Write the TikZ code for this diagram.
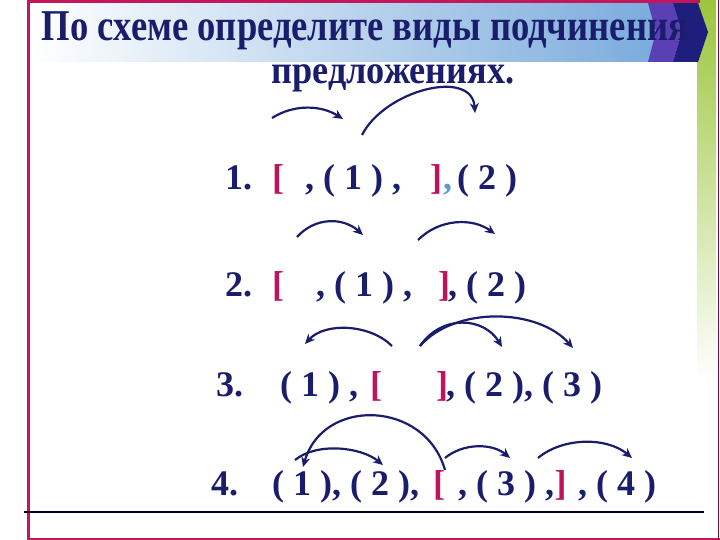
\documentclass[tikz,border=0pt]{standalone}
\usepackage{fontspec}
\setmainfont{Liberation Serif}
\usetikzlibrary{arrows.meta}
\usetikzlibrary{calc}

\definecolor{navyink}{HTML}{1A1D6C}
\definecolor{bracketred}{HTML}{C0135C}
\definecolor{paleblue}{HTML}{5B9BD5}
\definecolor{headblue}{HTML}{72A6DA}
\definecolor{chevpurple}{HTML}{5A40B4}
\definecolor{chevnavy}{HTML}{1E1F7C}
\definecolor{barGreen}{HTML}{9CC53C}
\definecolor{framered}{HTML}{C2185B}

\tikzset{
	scheme/.style={font=\bfseries\fontsize{36}{36}\selectfont, text=navyink, inner sep=0pt, anchor=base west},
	brk/.style={scheme, text=bracketred},
	linkarc/.style={-{Stealth[length=10pt, width=9pt]}, line width=2.2pt, draw=navyink}
}

\begin{document}
\begin{tikzpicture}[x=1pt, y=-1pt]

	% page size
	\useasboundingbox (0,0) rectangle (720,540);
	\fill[white] (0,0) rectangle (720,540);

	% header band and side bar
	\shade[left color=white, right color=headblue] (30,3) rectangle (697,62);
	\shade[top color=barGreen, bottom color=white] (697,0) rectangle (716,380);
	\fill[chevpurple] (648,3) -- (673,3) -- (682,32) -- (673,62) -- (648,62) -- (656,32) -- cycle;
	\fill[chevnavy] (673,3) -- (698,3) -- (708,32) -- (698,62) -- (673,62) -- (682,32) -- cycle;

	% frame
	\draw[framered, line width=3pt] (28,0) -- (28,540);
	\draw[framered, line width=3pt] (28,1.5) -- (700,1.5);
	\draw[framered, line width=2pt] (28,539) -- (720,539);
	\draw[framered!60!black, line width=1pt] (718,0) -- (718,540);
	\draw[black!85!blue, line width=1.2pt] (24,512) -- (704,512);

	% title
	\node[anchor=base, text=navyink, inner sep=0pt] (title1) at (365,41)
		{\resizebox{646pt}{\height}{\bfseries\fontsize{44}{44}\selectfont По схеме определите виды подчинения}};
	\node[anchor=base, text=navyink, inner sep=0pt] (title2) at (393,84)
		{\resizebox{243pt}{\height}{\bfseries\fontsize{40}{40}\selectfont предложениях.}};

	% scheme 1
	\node[scheme] (n1) at (225,190) {1.};
	\node[brk] (n1open) at (272,190) {[};
	\node[scheme] (n1sub) at (305,190) {, ( 1 ) ,};
	\node[brk] (n1close) at (430,190) {]};
	\node[scheme, text=paleblue] (n1comma) at (443,190) {,};
	\node[scheme] (n1two) at (457,190) {( 2 )};
	\coordinate (a1s) at (272,118);
	\coordinate (a1e) at (343,119);
	\coordinate (b1s) at (362,135);
	\coordinate (b1e) at (475,113);
	\draw[linkarc] (a1s) .. controls +(22,-14) and +(-22,-14) .. (a1e);
	\draw[linkarc] (b1s) .. controls +(23,-45) and +(-3,-45) .. (b1e);

	% scheme 2
	\node[scheme] (n2) at (225,296) {2.};
	\node[brk] (n2open) at (272,296) {[};
	\node[scheme] (n2sub) at (316,296) {, ( 1 ) ,};
	\node[brk] (n2close) at (438,296) {]};
	\node[scheme] (n2two) at (448,296) {, ( 2 )};
	\coordinate (a2s) at (297,237);
	\coordinate (a2e) at (363,235);
	\coordinate (b2s) at (418,240);
	\coordinate (b2e) at (495,234);
	\draw[linkarc] (a2s) .. controls +(18,-20) and +(-20,-18) .. (a2e);
	\draw[linkarc] (b2s) .. controls +(22,-22) and +(-22,-16) .. (b2e);

	% scheme 3
	\node[scheme] (n3) at (216,396) {3.};
	\node[scheme] (n3one) at (280,396) {( 1 ) ,};
	\node[brk] (n3open) at (370,396) {[};
	\node[brk] (n3close) at (436,396) {]};
	\node[scheme] (n3rest) at (446,396) {, ( 2 ), ( 3 )};
	\coordinate (a3s) at (392,346);
	\coordinate (a3e) at (305,344);
	\coordinate (b3s) at (420,346);
	\coordinate (b3e) at (502,347);
	\coordinate (c3e) at (573,348);
	\draw[linkarc] (a3s) .. controls +(-22,-22) and +(20,-22) .. (a3e);
	\draw[linkarc] (b3s) .. controls +(22,-32) and +(-18,-30) .. (b3e);
	\draw[linkarc] (b3s) .. controls +(35,-40) and +(-35,-40) .. (c3e);

	% scheme 4
	\node[scheme] (n4) at (211,495) {4.};
	\node[scheme] (n4pair) at (272,495) {( 1 ), ( 2 ),};
	\node[brk] (n4open) at (433,495) {[};
	\node[scheme] (n4sub) at (458,495) {, ( 3 ) ,};
	\node[brk] (n4close) at (n4sub.base east) {]};
	\node[scheme] (n4four) at (578,495) {, ( 4 )};
	\coordinate (a4s) at (295,460);
	\coordinate (a4e) at (383,465);
	\coordinate (b4s) at (445,470);
	\coordinate (b4e) at (303,467);
	\coordinate (c4s) at (445,458);
	\coordinate (c4e) at (510,458);
	\coordinate (d4s) at (538,458);
	\coordinate (d4e) at (632,458);
	\draw[linkarc] (a4s) .. controls +(22,-18) and +(-22,-18) .. (a4e);
	\draw[linkarc] (b4s) .. controls +(-20,-70) and +(20,-70) .. (b4e);
	\draw[linkarc] (c4s) .. controls +(18,-15) and +(-18,-15) .. (c4e);
	\draw[linkarc] (d4s) .. controls +(25,-21) and +(-25,-21) .. (d4e);

\end{tikzpicture}
\end{document}
